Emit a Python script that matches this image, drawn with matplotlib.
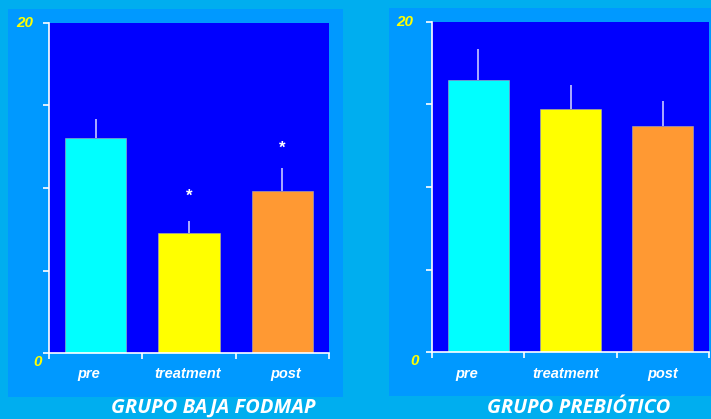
import matplotlib.pyplot as plt
from matplotlib.patches import Rectangle
from matplotlib.transforms import blended_transform_factory

# bar heights (mean) and upper error for each group
groups = ["pre", "treatment", "post"]
fodmap_mean = [13.0, 7.3, 9.8]
fodmap_err = [1.2, 0.7, 1.4]
fodmap_star = [None, 9.5, 12.4]
prebio_mean = [16.5, 14.7, 13.7]
prebio_err = [1.85, 1.5, 1.5]
prebio_star = [None, None, None]
titles = ["GRUPO BAJA FODMAP", "GRUPO PREBIÓTICO"]

BG = "#00AEEF"
FRAME = "#0099FF"
PLOT = "#0000FF"
BAR_COLORS = ["#00FFFF", "#FFFF00", "#FF9933"]
W, H = 711, 419

fig = plt.figure(figsize=(W / 100, H / 100), dpi=100, facecolor=BG)


def px_rect(x0, y0, x1, y1):
    # pixel box (top-left origin) -> figure fraction [left, bottom, w, h]
    return [x0 / W, 1 - y1 / H, (x1 - x0) / W, (y1 - y0) / H]


for box in [(8, 9, 343, 397), (389, 8, 711, 396)]:
    l, b, w, h = px_rect(*box)
    fig.patches.append(Rectangle((l, b), w, h, transform=fig.transFigure,
                                 facecolor=FRAME, edgecolor="none", zorder=-5))

# axes box, data, title centre, category label x, offsets of "20"/"0" (px)
panels = [
    (px_rect(49, 23, 329, 353), fodmap_mean, fodmap_err, fodmap_star, 213,
     [0.43, 1.49, 2.54], (16, 7)),
    (px_rect(432, 22, 709, 352), prebio_mean, prebio_err, prebio_star, 579,
     [0.38, 1.45, 2.5], (19, 13)),
]

x = [0.5, 1.5, 2.5]
for (pos, mean, err, stars, title_x, lab_x, offs), title in zip(panels, titles):
    ax = fig.add_axes(pos)
    ax.set_zorder(2)
    ax.set_facecolor(PLOT)
    ax.bar(x, mean, width=0.66, color=BAR_COLORS, edgecolor="#B0B0B0",
           linewidth=0.4, zorder=2)
    ax.vlines(x, mean, [m + e for m, e in zip(mean, err)],
              color="#C8C8FF", linewidth=1.2, zorder=1)
    for xi, s in zip(x, stars):
        if s is not None:
            ax.text(xi, s, "*", color="white", fontsize=12, fontweight="bold",
                    ha="center", va="center", family="Liberation Sans")
    ax.set_xlim(0, 3)
    ax.set_ylim(0, 20)
    ax.set_xticks([0, 1, 2, 3])
    ax.set_yticks([0, 5, 10, 15, 20])
    ax.set_xticklabels([])
    ax.set_yticklabels([])
    ax.tick_params(colors="white", length=4, width=1.2, direction="out")
    for side in ["top", "right"]:
        ax.spines[side].set_visible(False)
    for side in ["left", "bottom"]:
        ax.spines[side].set_color("white")
        ax.spines[side].set_linewidth(1.2)

    lab = dict(color="white", fontsize=10.5, fontweight="bold", style="italic",
               family="Liberation Sans", ha="center", va="center")
    trans = blended_transform_factory(ax.transData, fig.transFigure)
    for xi, g in zip(lab_x, groups):
        ax.text(xi, 1 - 374 / H, g, transform=trans, **lab)

    ytrans = blended_transform_factory(fig.transFigure, ax.transData)
    num = dict(color="#FFFF00", fontsize=11, fontweight="bold", style="italic",
               family="Liberation Sans", ha="right", va="center")
    ax.text(pos[0] - offs[0] / W, 20, "20", transform=ytrans, **num)
    ax.text(pos[0] - offs[1] / W, -0.55, "0", transform=ytrans, **num)

    fig.text(title_x / W, 1 - 408 / H, title, color="white", fontsize=14.5,
             fontweight="bold", style="italic", family="Open Sans",
             ha="center", va="center")

fig.savefig("out.png", dpi=100, facecolor=BG)
